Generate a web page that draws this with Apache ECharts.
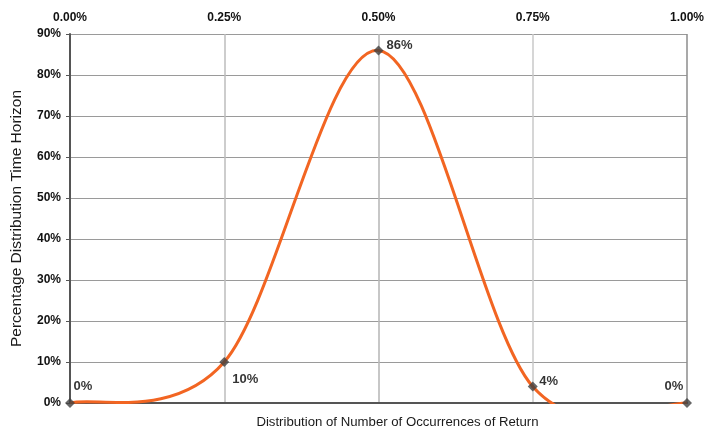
<!DOCTYPE html>
<html>
<head>
<meta charset="utf-8">
<script src="https://cdn.jsdelivr.net/npm/echarts@6/dist/echarts.min.js"></script>
<style>
html,body{margin:0;padding:0;background:#fff;}
#chart{width:705px;height:432px;}
</style>
</head>
<body>
<div id="chart"></div>
<script>
// ---- data ----
var xValues = [0, 0.25, 0.5, 0.75, 1.0];          // % (x axis, shown as 0.00% ... 1.00%)
var yValues = [0, 10, 86, 4, 0];                  // % (y axis)
var pointLabels = ['0%', '10%', '86%', '4%', '0%'];
var xTickValues = [0, 0.25, 0.5, 0.75, 1.0];
var yTickValues = [0, 10, 20, 30, 40, 50, 60, 70, 80, 90];
var xAxisTitle = 'Distribution of Number of Occurrences of Return';
var yAxisTitle = 'Percentage Distribution Time Horizon';

// label offsets (styling, kept separate from data)
var labelOffsets = [[13, -17], [21, 17], [21, -5], [16, -5], [-13, -17]];

var FONT = '"Liberation Sans", Arial, sans-serif';

var points = xValues.map(function (x, i) { return [x, yValues[i]]; });

var chart = echarts.init(document.getElementById('chart'), null, {renderer: 'canvas'});

function renderSegment(params, api) {
  var i = params.dataIndexInside;
  var n = points.length;
  if (i >= n - 1) return null;
  function P(j) {
    j = Math.max(0, Math.min(n - 1, j));
    return api.coord([api.value(0, j), api.value(1, j)]);
  }
  var p0 = P(i - 1), p1 = P(i), p2 = P(i + 1), p3 = P(i + 2);
  var cs = params.coordSys;
  return {
    type: 'bezierCurve',
    shape: {
      x1: p1[0], y1: p1[1],
      x2: p2[0], y2: p2[1],
      cpx1: p1[0] + (p2[0] - p0[0]) / 6,
      cpy1: p1[1] + (p2[1] - p0[1]) / 6,
      cpx2: p2[0] - (p3[0] - p1[0]) / 6,
      cpy2: p2[1] - (p3[1] - p1[1]) / 6
    },
    style: { stroke: '#f26522', lineWidth: 3, fill: null, lineCap: 'round' },
    clipPath: {
      type: 'rect',
      shape: { x: cs.x, y: cs.y - 2, width: cs.width, height: cs.height + 3 }
    }
  };
}

var option = {
  backgroundColor: '#ffffff',
  animation: false,
  textStyle: { fontFamily: FONT },
  grid: { left: 70, right: 18, top: 34, bottom: 29, containLabel: false, outerBoundsMode: 'none' },
  xAxis: [
    {
      type: 'value', position: 'top', min: 0, max: 1, interval: 0.25,
      axisLine: { show: false },
      axisTick: { show: false },
      axisLabel: {
        margin: 10,
        color: '#111111', fontWeight: 'bold', fontSize: 12, fontFamily: FONT,
        formatter: function (v) { return v.toFixed(2) + '%'; }
      },
      splitLine: {
        show: true,
        lineStyle: { color: ['#8c8c8c', '#bdbdbd', '#b4b4b4', '#c8c8c8', '#8c8c8c'], width: 1.5 }
      }
    },
    {
      type: 'value', position: 'bottom', min: 0, max: 1, interval: 0.25,
      name: xAxisTitle, nameLocation: 'middle', nameGap: 13,
      nameTextStyle: { color: '#1a1a1a', fontSize: 13.2, fontFamily: FONT, padding: [0, 0, 0, 38] },
      axisLine: { show: true, lineStyle: { color: '#555555', width: 2 } },
      axisTick: { show: false },
      axisLabel: { show: false },
      splitLine: { show: false }
    }
  ],
  yAxis: {
    type: 'value', min: 0, max: 90, interval: 10,
    name: yAxisTitle, nameLocation: 'middle', nameGap: 45,
    nameTextStyle: { color: '#1a1a1a', fontSize: 15.5, fontFamily: FONT },
    axisLine: { show: true, lineStyle: { color: '#555555', width: 2 } },
    axisTick: { show: true, length: 4, lineStyle: { color: '#555555', width: 1 } },
    axisLabel: {
      margin: 9, color: '#111111', fontWeight: 'bold', fontSize: 12, fontFamily: FONT,
      formatter: function (v) { return v + '%'; }
    },
    splitLine: { show: true, lineStyle: { color: '#9a9a9a', width: 1 } }
  },
  series: [
    {
      name: 'curve',
      type: 'custom',
      xAxisIndex: 0,
      renderItem: renderSegment,
      data: points,
      z: 3,
      silent: true
    },
    {
      name: 'points',
      type: 'scatter',
      xAxisIndex: 0,
      symbol: 'diamond',
      symbolSize: 10,
      itemStyle: { color: '#404040' },
      z: 5,
      data: points.map(function (p, i) {
        return {
          value: p,
          label: {
            show: true,
            position: 'inside',
            offset: labelOffsets[i],
            formatter: pointLabels[i],
            color: '#000000', fontWeight: 'bold', fontSize: 13, fontFamily: FONT,
            textBorderWidth: 0, textShadowBlur: 0
          }
        };
      })
    }
  ]
};

chart.setOption(option);
</script>
</body>
</html>
